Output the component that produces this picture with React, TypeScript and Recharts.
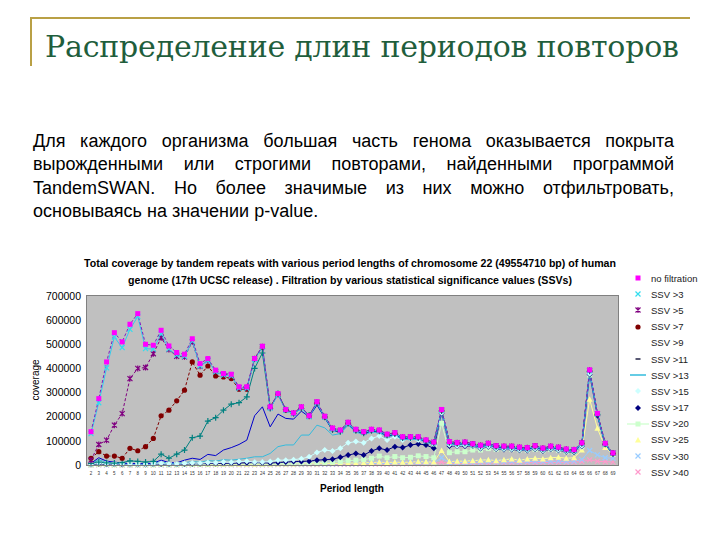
import { LineChart, Line, XAxis, YAxis, CartesianGrid, Legend } from "recharts";

const periods = [
  "2", "3", "4", "5", "6", "7", "8", "9", "10", "11", "12", "13", "14", "15", "16", "17", "18", "19",
  "20", "21", "22", "23", "24", "25", "26", "27", "28", "29", "30", "31", "32", "33", "34", "35", "36",
  "37", "38", "39", "40", "41", "42", "43", "44", "45", "46", "47", "48", "49", "50", "51", "52", "53",
  "54", "55", "56", "57", "58", "59", "60", "61", "62", "63", "64", "65", "66", "67", "68", "69",
];

const yTicks = [0, 100000, 200000, 300000, 400000, 500000, 600000, 700000];

const noFiltration = [
  138000, 275000, 427000, 548000, 510000, 583000, 627000, 500000, 496000, 558000,
  493000, 466000, 459000, 523000, 420000, 441000, 393000, 379000, 376000, 324000,
  324000, 441000, 492000, 241000, 296000, 230000, 216000, 241000, 204000, 262000,
  202000, 153000, 145000, 177000, 148000, 138000, 148000, 145000, 128000, 134000,
  117000, 117000, 117000, 104000, 95000, 230000, 97000, 93000, 95000, 88000,
  82000, 90000, 80000, 78000, 78000, 74000, 72000, 80000, 70000, 78000,
  74000, 66000, 64000, 92000, 394000, 214000, 90000, 50000,
];
const ssv3 = [
  130000, 258000, 402000, 530000, 486000, 562000, 615000, 482000, 480000, 542000,
  480000, 455000, 450000, 512000, 410000, 432000, 386000, 372000, 368000, 318000,
  318000, 436000, 488000, 236000, 290000, 226000, 212000, 236000, 200000, 256000,
  198000, 148000, 140000, 172000, 144000, 134000, 144000, 141000, 124000, 130000,
  113000, 114000, 113000, 100000, 92000, 226000, 94000, 90000, 92000, 85000,
  79000, 87000, 77000, 75000, 75000, 71000, 69000, 77000, 67000, 75000,
  71000, 63000, 61000, 89000, 390000, 210000, 87000, 48000,
];
const ssv5 = [
  20000, 85000, 103000, 165000, 213000, 358000, 400000, 404000, 461000, 527000,
  478000, 450000, 448000, 510000, 409000, 434000, 388000, 375000, 372000, 320000,
  320000, 440000, 490000, 238000, 292000, 228000, 214000, 239000, 202000, 260000,
  200000, 151000, 143000, 175000, 146000, 136000, 146000, 143000, 126000, 132000,
  115000, 116000, 115000, 102000, 94000, 228000, 96000, 92000, 94000, 87000,
  81000, 89000, 79000, 77000, 77000, 73000, 71000, 79000, 69000, 77000,
  73000, 65000, 63000, 91000, 392000, 212000, 89000, 49000,
];
const ssv7 = [
  28000, 55000, 37000, 37000, 28000, 69000, 59000, 76000, 110000, 204000,
  227000, 266000, 310000, 427000, 372000, 410000, 369000, 365000, 358000, 314000,
  314000, 441000, 489000, 240000, 293000, 228000, 214000, 238000, 203000, 258000,
  200000, 150000, 143000, 175000, 146000, 136000, 146000, 143000, 126000, 132000,
  115000, 116000, 115000, 102000, 94000, 228000, 96000, 92000, 94000, 87000,
  81000, 89000, 79000, 77000, 77000, 73000, 71000, 79000, 69000, 77000,
  73000, 65000, 63000, 91000, 392000, 212000, 89000, 49000,
];
const ssv9 = [
  7000, 12000, 9000, 8000, 10000, 17000, 15000, 12000, 15000, 45000,
  28000, 45000, 62000, 113000, 120000, 182000, 196000, 227000, 252000, 258000,
  282000, 400000, 464000, 234000, 296000, 230000, 213000, 234000, 207000, 255000,
  198000, 145000, 138000, 172000, 142000, 132000, 142000, 140000, 122000, 128000,
  112000, 112000, 112000, 99000, 90000, 224000, 92000, 88000, 90000, 84000,
  78000, 86000, 76000, 74000, 74000, 70000, 68000, 76000, 66000, 74000,
  70000, 62000, 60000, 88000, 388000, 210000, 86000, 47000,
];
const ssv11 = [
  7000, 30000, 16000, 12000, 8000, 6000, 6000, 5000, 8000, 20000,
  10000, 9000, 20000, 28000, 23000, 44000, 39000, 62000, 72000, 85000,
  103000, 204000, 241000, 158000, 211000, 193000, 190000, 223000, 200000, 248000,
  196000, 143000, 136000, 170000, 140000, 130000, 140000, 138000, 120000, 126000,
  110000, 110000, 110000, 97000, 88000, 222000, 90000, 86000, 88000, 82000,
  76000, 84000, 74000, 72000, 72000, 68000, 66000, 74000, 64000, 72000,
  68000, 60000, 58000, 86000, 386000, 208000, 84000, 46000,
];
const ssv13 = [
  5000, 22000, 10000, 8000, 6000, 5000, 5000, 4000, 6000, 12000,
  7000, 6000, 10000, 14000, 12000, 18000, 16000, 22000, 20000, 24000,
  28000, 34000, 34000, 48000, 76000, 83000, 83000, 124000, 124000, 165000,
  154000, 124000, 130000, 165000, 136000, 126000, 136000, 134000, 116000, 122000,
  106000, 106000, 106000, 94000, 85000, 218000, 86000, 82000, 84000, 78000,
  72000, 80000, 70000, 68000, 68000, 65000, 63000, 70000, 61000, 69000,
  65000, 58000, 56000, 82000, 382000, 205000, 82000, 45000,
];
const ssv15 = [
  3000, 8000, 5000, 4000, 4000, 3000, 3000, 3000, 4000, 6000,
  4000, 4000, 6000, 8000, 7000, 10000, 9000, 12000, 11000, 14000,
  16000, 12000, 12000, 14000, 20000, 20000, 22000, 26000, 34000, 52000,
  62000, 58000, 69000, 92000, 97000, 92000, 110000, 120000, 104000, 117000,
  104000, 110000, 104000, 101000, 87000, 216000, 84000, 80000, 82000, 80000,
  70000, 78000, 68000, 66000, 66000, 63000, 62000, 68000, 60000, 67000,
  63000, 57000, 55000, 80000, 378000, 212000, 88000, 46000,
];
const ssv17 = [
  2000, 5000, 3000, 3000, 2000, 2000, 2000, 2000, 3000, 4000,
  3000, 3000, 4000, 5000, 5000, 6000, 6000, 7000, 7000, 8000,
  9000, 10000, 9000, 8000, 10000, 12000, 14000, 15000, 16000, 20000,
  22000, 24000, 32000, 41000, 48000, 41000, 58000, 69000, 62000, 76000,
  72000, 83000, 87000, 83000, 69000, 214000, 79000, 79000, 79000, 79000,
  68000, 76000, 66000, 64000, 64000, 61000, 60000, 66000, 58000, 65000,
  61000, 55000, 53000, 78000, 375000, 205000, 86000, 45000,
];
const ssv20 = [
  2000, 4000, 3000, 2000, 2000, 2000, 2000, 2000, 2000, 3000,
  2000, 2000, 3000, 3000, 3000, 4000, 4000, 5000, 5000, 6000,
  6000, 6000, 5000, 5000, 6000, 7000, 8000, 9000, 10000, 10000,
  11000, 12000, 14000, 18000, 20000, 22000, 28000, 37000, 30000, 35000,
  30000, 32000, 38000, 35000, 30000, 173000, 51000, 55000, 55000, 62000,
  62000, 68000, 64000, 66000, 64000, 62000, 60000, 64000, 58000, 64000,
  60000, 54000, 52000, 75000, 373000, 214000, 90000, 48000,
];
const ssv25 = [
  1000, 3000, 2000, 1000, 1000, 1000, 1000, 1000, 1000, 2000,
  1000, 1000, 2000, 2000, 2000, 2000, 2000, 3000, 3000, 3000,
  3000, 3000, 3000, 3000, 4000, 4000, 4000, 5000, 5000, 5000,
  6000, 6000, 7000, 8000, 8000, 9000, 10000, 12000, 10000, 12000,
  11000, 12000, 14000, 13000, 12000, 60000, 14000, 16000, 16000, 18000,
  20000, 22000, 18000, 22000, 25000, 20000, 25000, 28000, 25000, 30000,
  32000, 28000, 30000, 62000, 272000, 152000, 73000, 45000,
];
const ssv30 = [
  1000, 2000, 1000, 1000, 1000, 1000, 1000, 1000, 1000, 1000,
  1000, 1000, 1000, 2000, 2000, 2000, 2000, 2000, 2000, 2000,
  2000, 2000, 2000, 2000, 3000, 3000, 3000, 3000, 4000, 4000,
  4000, 4000, 5000, 5000, 5000, 6000, 6000, 7000, 6000, 7000,
  7000, 8000, 8000, 8000, 8000, 30000, 9000, 10000, 10000, 11000,
  12000, 13000, 12000, 13000, 14000, 13000, 14000, 15000, 14000, 15000,
  16000, 15000, 16000, 22000, 60000, 42000, 30000, 28000,
];
const ssv40 = [
  500, 1000, 500, 500, 500, 500, 500, 500, 500, 500,
  500, 500, 800, 800, 800, 800, 1000, 1000, 1000, 1000,
  1000, 1200, 1200, 1200, 1500, 1500, 1500, 2000, 2000, 2000,
  2500, 2500, 3000, 3000, 3500, 3500, 4000, 4000, 4000, 4500,
  4500, 5000, 5000, 5000, 5000, 12000, 6000, 6000, 7000, 7000,
  8000, 8000, 8000, 9000, 9000, 9000, 10000, 10000, 10000, 11000,
  11000, 11000, 12000, 14000, 21000, 15000, 14000, 12000,
];

type Shape = "square" | "x" | "star" | "circle" | "plus" | "dash" | "diamond" | "triangle" | "none";

interface Series {
  key: string;
  name: string;
  values: number[];
  line: string;
  marker: string;
  shape: Shape;
  dash?: string;
  legendIcon?: Shape | "lineSquare" | "line" | "blank";
}

const series: Series[] = [
  { key: "nf", name: "no filtration", values: noFiltration, line: "#8020C0", marker: "#FF00FF", shape: "square", dash: "3 2" },
  { key: "s3", name: "SSV >3", values: ssv3, line: "#33CCEE", marker: "#33DDEE", shape: "x" },
  { key: "s5", name: "SSV >5", values: ssv5, line: "#800080", marker: "#800080", shape: "star", dash: "3 2" },
  { key: "s7", name: "SSV >7", values: ssv7, line: "#800000", marker: "#800000", shape: "circle", dash: "3 2" },
  { key: "s9", name: "SSV >9", values: ssv9, line: "#008080", marker: "#008080", shape: "plus", legendIcon: "blank" },
  { key: "s11", name: "SSV >11", values: ssv11, line: "#0000CC", marker: "#0000CC", shape: "none", legendIcon: "dash" },
  { key: "s13", name: "SSV >13", values: ssv13, line: "#33BBDD", marker: "#33BBDD", shape: "none", legendIcon: "line" },
  { key: "s15", name: "SSV >15", values: ssv15, line: "#CCFFFF", marker: "#CCFFFF", shape: "diamond" },
  { key: "s17", name: "SSV >17", values: ssv17, line: "#000080", marker: "#000080", shape: "diamond" },
  { key: "s20", name: "SSV >20", values: ssv20, line: "#CCFFCC", marker: "#CCFFCC", shape: "square", legendIcon: "lineSquare" },
  { key: "s25", name: "SSV >25", values: ssv25, line: "#FFFF99", marker: "#FFFF99", shape: "triangle" },
  { key: "s30", name: "SSV >30", values: ssv30, line: "#99CCFF", marker: "#99CCFF", shape: "x" },
  { key: "s40", name: "SSV >40", values: ssv40, line: "#FF99CC", marker: "#FF99CC", shape: "x" },
];

const data = periods.map((p, i) => {
  const row: Record<string, string | number> = { period: p };
  series.forEach((s) => {
    row[s.key] = s.values[i];
  });
  return row;
});

function markerShape(shape: string, color: string, cx: number, cy: number, k?: string | number) {
  switch (shape) {
    case "square":
      return <rect key={k} x={cx - 2.5} y={cy - 2.5} width={5} height={5} fill={color} />;
    case "circle":
      return <circle key={k} cx={cx} cy={cy} r={2.6} fill={color} />;
    case "diamond":
      return <polygon key={k} points={`${cx},${cy - 3} ${cx + 3},${cy} ${cx},${cy + 3} ${cx - 3},${cy}`} fill={color} />;
    case "triangle":
      return <polygon key={k} points={`${cx},${cy - 3} ${cx + 3},${cy + 2.5} ${cx - 3},${cy + 2.5}`} fill={color} />;
    case "x":
      return (
        <path key={k} d={`M${cx - 2.5},${cy - 2.5}L${cx + 2.5},${cy + 2.5}M${cx + 2.5},${cy - 2.5}L${cx - 2.5},${cy + 2.5}`} stroke={color} strokeWidth={1.2} />
      );
    case "star":
      return (
        <path
          key={k}
          d={`M${cx - 2.5},${cy - 2.5}L${cx + 2.5},${cy + 2.5}M${cx + 2.5},${cy - 2.5}L${cx - 2.5},${cy + 2.5}M${cx},${cy - 3}L${cx},${cy + 3}`}
          stroke={color}
          strokeWidth={1.2}
        />
      );
    case "plus":
      return <path key={k} d={`M${cx - 3},${cy}L${cx + 3},${cy}M${cx},${cy - 3}L${cx},${cy + 3}`} stroke={color} strokeWidth={1.2} />;
    case "dash":
      return <path key={k} d={`M${cx - 2.5},${cy}L${cx + 2.5},${cy}`} stroke={color} strokeWidth={1.5} />;
    default:
      return <g key={k} />;
  }
}

function makeDot(s: Series) {
  return (props: any) => {
    const { cx, cy, index } = props;
    if (cx == null || cy == null || s.shape === "none") return <g key={`${s.key}-${index}`} />;
    return markerShape(s.shape, s.marker, cx, cy, `${s.key}-${index}`);
  };
}

function LegendBox() {
  return (
    <div style={{ fontFamily: "Liberation Sans, Arial, sans-serif", fontSize: 9.5, color: "#222" }}>
      {series.map((s) => {
        const icon = s.legendIcon ?? s.shape;
        return (
          <div key={s.key} style={{ display: "flex", alignItems: "center", height: 16.2 }}>
            <svg width={22} height={10} style={{ marginRight: 2 }}>
              {icon === "line" && <line x1={3} y1={5} x2={19} y2={5} stroke={s.line} strokeWidth={1.5} />}
              {icon === "lineSquare" && (
                <>
                  <line x1={0} y1={5} x2={22} y2={5} stroke={s.line} strokeWidth={1.2} />
                  {markerShape("square", s.marker, 11, 5)}
                </>
              )}
              {icon === "dash" && markerShape("dash", "#222244", 11, 5)}
              {icon !== "line" && icon !== "lineSquare" && icon !== "dash" && icon !== "blank" &&
                markerShape(icon, s.marker, 11, 5)}
            </svg>
            <span>{s.name}</span>
          </div>
        );
      })}
    </div>
  );
}

const textFont = "Liberation Sans, Arial, sans-serif";

export default function App() {
  return (
    <div style={{ position: "absolute", left: 0, top: 0, width: 720, height: 540, background: "#fff", overflow: "hidden" }}>
      <div style={{ position: "absolute", left: 30, top: 17, width: 660, height: 2, background: "#B9A045" }} />
      <div style={{ position: "absolute", left: 30, top: 17, width: 2, height: 49, background: "#B9A045" }} />
      <div
        style={{
          position: "absolute",
          left: 45,
          top: 29,
          fontFamily: "DejaVu Serif, serif",
          fontSize: 30,
          color: "#1F5E3C",
          whiteSpace: "nowrap",
          letterSpacing: -0.2,
        }}
      >
        Распределение длин периодов повторов
      </div>
      <div
        style={{
          position: "absolute",
          left: 33,
          top: 130,
          width: 641,
          fontFamily: textFont,
          fontSize: 18,
          lineHeight: "23.3px",
          color: "#000",
        }}
      >
        <div style={{ textAlign: "justify", textAlignLast: "justify" }}>
          Для каждого организма большая часть генома оказывается покрыта
        </div>
        <div style={{ textAlign: "justify", textAlignLast: "justify" }}>
          вырожденными или строгими повторами, найденными программой
        </div>
        <div style={{ textAlign: "justify", textAlignLast: "justify" }}>
          TandemSWAN. Но более значимые из них можно отфильтровать,
        </div>
        <div>основываясь на значении p-value.</div>
      </div>

      <LineChart
        width={720}
        height={540}
        data={data}
        margin={{ top: 296, right: 102, bottom: 61, left: 37 }}
        style={{ position: "absolute", left: 0, top: 0 }}
      >
        <CartesianGrid fill="#C0C0C0" horizontal={false} vertical={false} />
        <XAxis
          dataKey="period"
          type="category"
          interval={0}
          height={14}
          tickLine={false}
          axisLine={false}
          tickSize={0}
          tickMargin={7}
          padding={{ left: 4, right: 5 }}
          tick={{ fontSize: 4.5, fill: "#333", fontFamily: textFont }}
        />
        <YAxis
          domain={[0, 700000]}
          ticks={yTicks}
          interval={0}
          width={50}
          tickLine={false}
          axisLine={false}
          tickSize={0}
          tickMargin={6}
          tick={{ fontSize: 10.5, fill: "#000", fontFamily: textFont }}
        />
        <Legend
          layout="vertical"
          verticalAlign="middle"
          align="center"
          wrapperStyle={{ left: 627, top: 270, width: 93 }}
          content={() => <LegendBox />}
        />
        {[...series].reverse().map((s) => (
          <Line
            key={s.key}
            dataKey={s.key}
            name={s.name}
            type="linear"
            stroke={s.line}
            strokeWidth={1}
            strokeDasharray={s.dash}
            dot={makeDot(s)}
            activeDot={false}
            isAnimationActive={false}
          />
        ))}
      </LineChart>

      <div
        style={{
          position: "absolute",
          left: 86,
          top: 295,
          width: 531,
          height: 169,
          border: "1px solid #808080",
          pointerEvents: "none",
        }}
      />
      <div
        style={{
          position: "absolute",
          left: 30,
          top: 255,
          width: 640,
          textAlign: "center",
          fontFamily: textFont,
          fontWeight: "bold",
          fontSize: 10.6,
          lineHeight: "17px",
          color: "#000",
        }}
      >
        <div>Total coverage by tandem repeats with various period lengths of chromosome 22 (49554710 bp) of human</div>
        <div>genome (17th UCSC release) . Filtration by various statistical significance values (SSVs)</div>
      </div>
      <div
        style={{
          position: "absolute",
          left: 35,
          top: 380,
          transform: "translate(-50%, -50%) rotate(-90deg)",
          fontFamily: textFont,
          fontSize: 10,
          color: "#000",
          whiteSpace: "nowrap",
        }}
      >
        coverage
      </div>
      <div
        style={{
          position: "absolute",
          left: 352,
          top: 488,
          transform: "translate(-50%, -50%)",
          fontFamily: textFont,
          fontWeight: "bold",
          fontSize: 10,
          color: "#000",
          whiteSpace: "nowrap",
        }}
      >
        Period length
      </div>
    </div>
  );
}
